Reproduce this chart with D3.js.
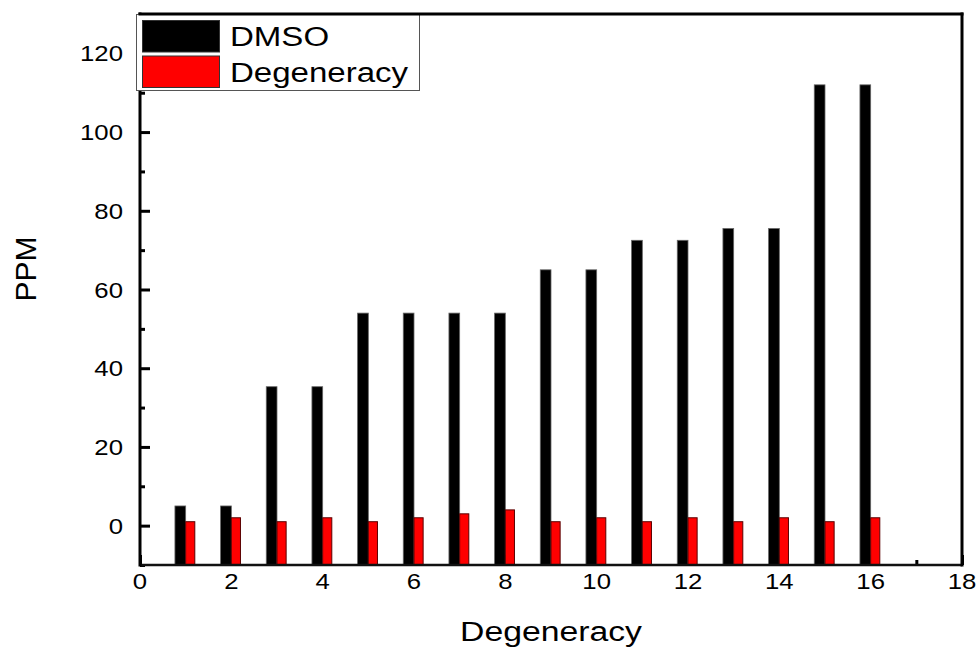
<!DOCTYPE html>
<html><head><meta charset="utf-8">
<script src="https://cdn.jsdelivr.net/npm/d3@7"></script>
<style>
body{margin:0;background:#fff}
svg{display:block}
text{font-family:"Liberation Sans",Arial,sans-serif;fill:#000}
</style>
</head><body><svg id="c" width="980" height="648"></svg>
<script>
const categories=[1,2,3,4,5,6,7,8,9,10,11,12,13,14,15,16];
const dmso=[5,5,35.3,35.3,54,54,54,54,65,65,72.5,72.5,75.5,75.5,112,112];
const degeneracy=[1,2,1,2,1,2,3,4,1,2,1,2,1,2,1,2];
const xTickValues=[0,2,4,6,8,10,12,14,16,18];
const xMinorValues=[1,3,5,7,9,11,13,15,17];
const yTickValues=[0,20,40,60,80,100,120];
const yMinorValues=[-10,10,30,50,70,90,110,130];
const seriesNames=["DMSO","Degeneracy"];
const seriesColors=["#000000","#ff0000"];
const xTitle="Degeneracy", yTitle="PPM";

const svg=d3.select("#c");
const L=140,R=962,T=14,B=565;
const x=d3.scaleLinear().domain([0,18]).range([L,R]);
const y=d3.scaleLinear().domain([-10,130]).range([B,T]);
const SX=1.17;

// ticks (inward)
const gx=svg.append("g").attr("transform",`translate(0,${B})`);
gx.call(d3.axisBottom(x).tickValues(xTickValues).tickSize(-10).tickFormat(""));
gx.call(g=>g.select(".domain").remove());
const gxm=svg.append("g").attr("transform",`translate(0,${B})`);
gxm.call(d3.axisBottom(x).tickValues(xMinorValues).tickSize(-5).tickFormat(""));
gxm.call(g=>g.select(".domain").remove());
const gy=svg.append("g").attr("transform",`translate(${L},0)`);
gy.call(d3.axisLeft(y).tickValues(yTickValues).tickSize(-10).tickFormat(""));
gy.call(g=>g.select(".domain").remove());
const gym=svg.append("g").attr("transform",`translate(${L},0)`);
gym.call(d3.axisLeft(y).tickValues(yMinorValues).tickSize(-5).tickFormat(""));
gym.call(g=>g.select(".domain").remove());
svg.selectAll(".tick line").attr("stroke","#000").attr("stroke-width",3);

// bars
const data=categories.map((c,i)=>({c,a:dmso[i],b:degeneracy[i]}));
svg.append("g").selectAll("rect").data(data).join("rect")
  .attr("x",d=>x(d.c-0.235)).attr("width",d=>x(d.c)-x(d.c-0.235))
  .attr("y",d=>y(d.a)).attr("height",d=>B-y(d.a))
  .attr("fill",seriesColors[0]).attr("stroke","#666").attr("stroke-width",0.8);
svg.append("g").selectAll("rect").data(data).join("rect")
  .attr("x",d=>x(d.c)).attr("width",d=>x(d.c+0.2)-x(d.c))
  .attr("y",d=>y(d.b)).attr("height",d=>B-y(d.b))
  .attr("fill",seriesColors[1]).attr("stroke","#5a0000").attr("stroke-width",1);

// frame
svg.append("line").attr("x1",L).attr("x2",R).attr("y1",B).attr("y2",B).attr("stroke","#111").attr("stroke-width",2.5);
svg.append("line").attr("x1",L).attr("x2",L).attr("y1",T-1.5).attr("y2",B+1.5).attr("stroke","#000").attr("stroke-width",3);
svg.append("line").attr("x1",R).attr("x2",R).attr("y1",T-1.5).attr("y2",B+1.5).attr("stroke","#000").attr("stroke-width",3);

// tick labels
svg.append("g").selectAll("text").data(xTickValues).join("text")
  .attr("transform",d=>`translate(${x(d)},589) scale(${SX},1)`)
  .attr("text-anchor","middle").attr("font-size",22).text(d=>d);
svg.append("g").selectAll("text").data(yTickValues).join("text")
  .attr("transform",d=>`translate(123,${y(d)+8}) scale(${SX},1)`)
  .attr("text-anchor","end").attr("font-size",22).text(d=>d);

// titles
svg.append("text").attr("transform",`translate(551,641) scale(1.25,1)`)
  .attr("text-anchor","middle").attr("font-size",27).text(xTitle);
svg.append("text").attr("transform",`translate(36,269) rotate(-90)`)
  .attr("text-anchor","middle").attr("font-size",30).text(yTitle);

// legend
const lg=svg.append("g");
lg.append("rect").attr("x",136.5).attr("y",14.5).attr("width",283).attr("height",76)
  .attr("fill","#fff").attr("stroke","#555").attr("stroke-width",1);
seriesNames.forEach((n,i)=>{
  lg.append("rect").attr("x",142.5).attr("y",20.5+i*35.5).attr("width",77).attr("height",31.5)
    .attr("fill",seriesColors[i]).attr("stroke","#333").attr("stroke-width",1);
  lg.append("text").attr("transform",`translate(230,${46+i*36}) scale(1.18,1)`)
    .attr("font-size",28).text(n);
});
svg.append("line").attr("x1",L-1.5).attr("x2",R+1.5).attr("y1",T).attr("y2",T).attr("stroke","#000").attr("stroke-width",3);
</script></body></html>
